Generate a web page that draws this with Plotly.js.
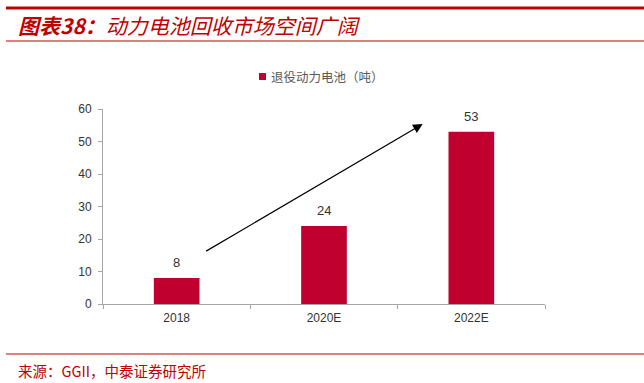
<!DOCTYPE html>
<html><head><meta charset="utf-8">
<script src="https://cdn.plot.ly/plotly-3.0.1.min.js"></script>
<style>html,body{margin:0;padding:0;background:#fff}#c{width:644px;height:383px}</style>
</head><body><div id="c"></div>
<script>
var categories = ['2018', '2020E', '2022E'];
var values = [8, 24, 53];
var yTicks = [0, 10, 20, 30, 40, 50, 60];
var seriesName = '退役动力电池（吨）';
var titleText = '<i><b>图表38：</b>动力电池回收市场空间广阔</i>';
var sourceText = '来源：GGII，中泰证券研究所';

var L = 103, R = 545, T = 109, B = 304;
function px(x){ return (x - L) / (R - L); }
function py(y){ return (B - y) / (B - T); }

var red = '#C0002F';
var trace = {
  type: 'bar', x: categories, y: values, name: seriesName,
  marker: {color: red}, width: 0.31, showlegend: false
};
var labelAnns = categories.map(function(c, i){
  return {xref: 'x', yref: 'y', x: i, y: values[i], yanchor: 'bottom', yshift: 6,
    text: String(values[i]), showarrow: false,
    font: {family: 'Arial, Liberation Sans', size: 13, color: '#333333'}};
});
var layout = {
  width: 644, height: 383,
  margin: {l: L, r: 644 - R, t: T, b: 383 - B},
  paper_bgcolor: '#fff', plot_bgcolor: '#fff',
  showlegend: false,
  xaxis: {type: 'category', categoryorder: 'array', categoryarray: categories,
    range: [-0.5, categories.length - 0.5],
    showline: true, linecolor: '#A6A6A6', linewidth: 1,
    ticks: 'outside', ticklen: 4, tickcolor: '#A6A6A6', tickson: 'boundaries',
    ticklabelstandoff: 3,
    showgrid: false, tickfont: {family: 'Arial, Liberation Sans', size: 12, color: '#333333'}},
  yaxis: {range: [0, 60], tickvals: yTicks, showline: true, linecolor: '#A6A6A6', linewidth: 1,
    ticks: 'outside', ticklen: 4, tickcolor: '#A6A6A6', showgrid: false, zeroline: false,
    ticklabelstandoff: 4,
    tickfont: {family: 'Arial, Liberation Sans', size: 12, color: '#333333'}},
  shapes: [
    {type: 'line', xref: 'paper', yref: 'paper', x0: px(6), x1: px(644), y0: py(8), y1: py(8),
      line: {color: '#C00000', width: 3}},
    {type: 'line', xref: 'paper', yref: 'paper', x0: px(6), x1: px(644), y0: py(41), y1: py(41),
      line: {color: '#C00000', width: 1}},
    {type: 'line', xref: 'paper', yref: 'paper', x0: px(6), x1: px(644), y0: py(354), y1: py(354),
      line: {color: '#C00000', width: 1}},
    {type: 'rect', xref: 'paper', yref: 'paper', x0: px(259), x1: px(266), y0: py(73), y1: py(80),
      fillcolor: red, line: {width: 0}}
  ],
  annotations: [
    {xref: 'paper', yref: 'paper', x: px(16), y: py(25), xanchor: 'left', yanchor: 'middle',
      text: titleText, showarrow: false,
      font: {family: 'Noto Sans CJK SC', size: 21, color: '#C00000'}},
    {xref: 'paper', yref: 'paper', x: px(16), y: py(370), xanchor: 'left', yanchor: 'middle',
      text: sourceText, showarrow: false,
      font: {family: 'Noto Sans CJK SC', size: 14.5, color: '#C00000'}},
    {xref: 'paper', yref: 'paper', x: px(269), y: py(76.5), xanchor: 'left', yanchor: 'middle',
      text: seriesName, showarrow: false,
      font: {family: 'Noto Sans CJK SC', size: 12.5, color: '#595959'}},
    {xref: 'x', yref: 'y', axref: 'x', ayref: 'y', x: 1.67, y: 55.4, ax: 0.19, ay: 16,
      text: '', showarrow: true, arrowhead: 2, arrowsize: 1.6, arrowwidth: 1.2, arrowcolor: '#000'}
  ].concat(labelAnns)
};
Plotly.newPlot('c', [trace], layout, {displayModeBar: false, staticPlot: true});
</script></body></html>
